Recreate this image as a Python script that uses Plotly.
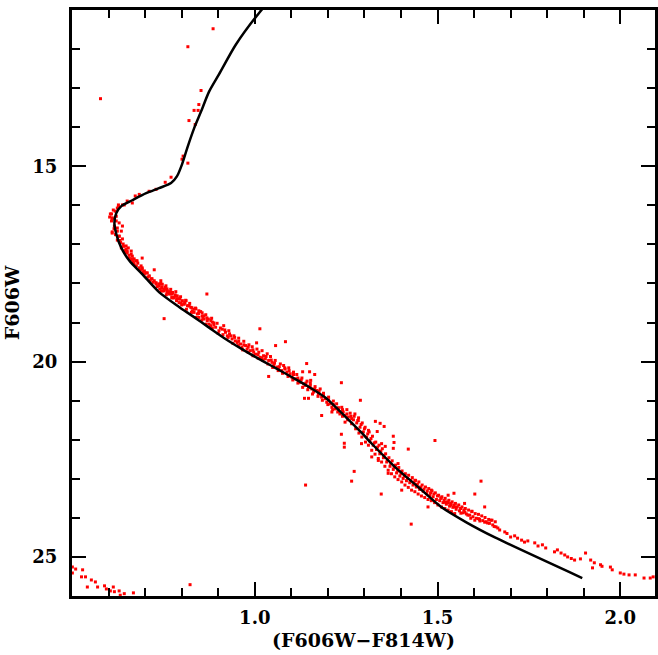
import plotly.graph_objects as go

# ---------------- data ----------------
# Isochrone (colour, magnitude)
iso_color = [1.056, 1.014, 0.948, 0.902, 0.875, 0.853, 0.834, 0.815, 0.801, 0.787, 0.771,
             0.738, 0.703, 0.665, 0.635, 0.621, 0.616, 0.621, 0.635, 0.657, 0.692, 0.738,
             0.793, 0.829, 0.875, 0.920, 0.965, 1.011, 1.056, 1.102, 1.147, 1.193, 1.247,
             1.290, 1.319, 1.384, 1.447, 1.510, 1.580, 1.657, 1.896]
iso_mag = [10.60, 11.05, 11.89, 12.65, 13.09, 13.60, 14.03, 14.54, 14.95, 15.26, 15.43,
           15.56, 15.69, 15.87, 16.02, 16.20, 16.45, 16.73, 17.09, 17.42, 17.76, 18.22,
           18.60, 18.83, 19.13, 19.42, 19.68, 19.93, 20.16, 20.40, 20.64, 20.92, 21.40,
           21.80, 22.09, 22.70, 23.21, 23.72, 24.12, 24.50, 25.54]

# Stars: (F606W-F814W, F606W)
giants = [(0.886, 11.48), (0.817, 11.94), (0.853, 13.06), (0.847, 13.42), (0.834, 13.57),
          (0.845, 13.57), (0.820, 13.83), (0.837, 13.93), (0.804, 14.74), (0.801, 14.82),
          (0.817, 14.92), (0.771, 15.28), (0.755, 15.41), (0.730, 15.59), (0.711, 15.64),
          (0.684, 15.72), (0.673, 15.76), (0.665, 15.94), (0.643, 15.99), (0.627, 15.99),
          (0.624, 16.07), (0.651, 15.89)]

turnoff = [(0.608, 16.22), (0.610, 16.32), (0.608, 16.40), (0.621, 16.40), (0.616, 16.53),
           (0.624, 16.66), (0.610, 16.68), (0.629, 16.79), (0.624, 16.89), (0.640, 16.99),
           (0.635, 17.09), (0.648, 17.12), (0.651, 17.22), (0.662, 17.25), (0.657, 17.35),
           (0.665, 17.37), (0.676, 17.42), (0.670, 17.50), (0.692, 17.35), (0.684, 17.60),
           (0.692, 17.63), (0.703, 17.73), (0.698, 17.76), (0.711, 17.81), (0.717, 17.88),
           (0.725, 17.93), (0.730, 18.01), (0.738, 18.04), (0.746, 18.09), (0.744, 18.19),
           (0.757, 18.14), (0.760, 18.24), (0.771, 18.27), (0.774, 18.37), (0.785, 18.32),
           (0.793, 18.39), (0.798, 18.50), (0.806, 18.52), (0.812, 18.44), (0.820, 18.57),
           (0.828, 18.62), (0.839, 18.65), (0.847, 18.70), (0.856, 18.75), (0.861, 18.83),
           (0.869, 18.88), (0.880, 18.95), (0.888, 19.01),
           (0.605, 16.22), (0.610, 16.35), (0.618, 16.15), (0.627, 16.02), (0.621, 16.28),
           (0.610, 16.71), (0.624, 16.58), (0.629, 16.45), (0.635, 16.66), (0.638, 16.53),
           (0.629, 16.79), (0.638, 16.86), (0.648, 17.04), (0.654, 17.09), (0.662, 17.17),
           (0.651, 17.17), (0.665, 17.30), (0.670, 17.37), (0.678, 17.42), (0.676, 17.55),
           (0.689, 17.55), (0.692, 17.60), (0.698, 17.68), (0.706, 17.73), (0.711, 17.81),
           (0.725, 17.65), (0.719, 17.88), (0.730, 17.98), (0.738, 18.01), (0.746, 18.11),
           (0.752, 18.19), (0.760, 18.14), (0.766, 18.24), (0.774, 18.27), (0.779, 18.37),
           (0.787, 18.39), (0.638, 15.99),
           (0.633, 16.95), (0.641, 17.05), (0.645, 17.15), (0.656, 17.28), (0.661, 17.40),
           (0.668, 17.44), (0.680, 17.48), (0.687, 17.66), (0.695, 17.70), (0.707, 17.84),
           (0.714, 17.92), (0.722, 17.97), (0.733, 18.08), (0.740, 18.14), (0.615, 16.60),
           (0.619, 16.75), (0.603, 16.30), (0.613, 16.12), (0.631, 16.90), (0.644, 17.20)]

upper_ms = [(0.738, 18.06), (0.747, 18.02), (0.752, 18.15), (0.761, 18.19), (0.766, 18.27),
            (0.775, 18.23), (0.779, 18.36), (0.788, 18.32), (0.793, 18.49), (0.802, 18.44),
            (0.807, 18.53), (0.816, 18.57), (0.825, 18.61), (0.829, 18.70), (0.834, 18.74),
            (0.843, 18.78), (0.847, 18.87), (0.856, 18.83), (0.861, 18.91), (0.870, 18.95),
            (0.875, 19.04), (0.879, 19.08), (0.884, 18.99), (0.893, 19.12), (0.902, 19.21),
            (0.911, 19.17), (0.920, 19.25), (0.925, 19.34), (0.934, 19.34), (0.938, 19.42),
            (0.947, 19.47), (0.952, 19.51), (0.961, 19.55), (0.965, 19.64), (0.975, 19.59),
            (0.979, 19.68), (0.988, 19.72), (0.997, 19.76), (1.002, 19.81), (1.011, 19.76),
            (1.015, 19.89), (1.024, 19.85), (1.029, 19.93), (1.038, 19.97), (1.047, 20.02),
            (1.052, 20.10), (1.061, 20.14), (1.065, 20.19), (1.074, 20.23), (1.083, 20.19),
            (1.088, 20.27), (1.097, 20.31), (1.102, 20.40), (1.111, 20.44), (1.120, 20.49),
            (1.124, 20.53), (1.134, 20.57), (1.138, 20.61), (1.147, 20.66), (1.156, 20.70),
            (1.161, 20.78), (1.170, 20.74), (1.174, 20.83), (1.183, 20.91), (1.193, 20.95),
            (1.197, 21.04), (1.206, 21.08), (1.211, 21.17), (1.220, 21.21), (1.229, 21.25),
            (1.233, 21.34), (1.242, 21.29), (1.247, 21.38), (1.256, 21.42), (1.265, 21.46)]

upper_ms_blue = [(0.743, 17.93), (0.757, 18.06), (0.770, 18.15), (0.784, 18.21), (0.797, 18.34),
                 (0.811, 18.43), (0.822, 18.51), (0.838, 18.63), (0.852, 18.72), (0.866, 18.80),
                 (0.882, 18.89), (0.897, 19.02), (0.915, 19.08), (0.929, 19.21), (0.943, 19.34),
                 (0.956, 19.40), (0.970, 19.48), (0.984, 19.57), (0.993, 19.62), (1.006, 19.68),
                 (1.020, 19.72), (1.034, 19.80), (1.043, 19.87), (1.056, 19.97), (1.070, 20.06),
                 (1.079, 20.10), (1.093, 20.16), (1.106, 20.27), (1.115, 20.33), (1.129, 20.42),
                 (1.143, 20.50), (1.152, 20.55), (1.165, 20.64), (1.179, 20.70), (1.188, 20.81),
                 (1.202, 20.91), (1.215, 21.01), (1.224, 21.08), (1.238, 21.17), (1.252, 21.23),
                 (1.261, 21.32)]

upper_ms_red = [(0.747, 18.19), (0.758, 18.29), (0.773, 18.36), (0.786, 18.44), (0.800, 18.55),
                (0.813, 18.66), (0.827, 18.74), (0.840, 18.87), (0.855, 18.94), (0.867, 19.04),
                (0.884, 19.14), (0.900, 19.28), (0.913, 19.31), (0.927, 19.38), (0.940, 19.53),
                (0.955, 19.59), (0.967, 19.70), (0.982, 19.76), (0.995, 19.85), (1.009, 19.91),
                (1.022, 19.96), (1.036, 20.06), (1.049, 20.15), (1.064, 20.23), (1.076, 20.30),
                (1.091, 20.38), (1.104, 20.47), (1.118, 20.55), (1.131, 20.66), (1.145, 20.72),
                (1.158, 20.83), (1.173, 20.89), (1.185, 20.99), (1.200, 21.10), (1.213, 21.23),
                (1.227, 21.29), (1.240, 21.40), (1.254, 21.49)]

upper_ms_extra = [(0.743, 18.00), (0.755, 18.10), (0.768, 18.21), (0.782, 18.29), (0.795, 18.40),
                  (0.809, 18.49), (0.820, 18.57), (0.834, 18.66), (0.846, 18.77), (0.858, 18.87),
                  (0.873, 18.91), (0.888, 19.06), (0.906, 19.14), (0.918, 19.19), (0.931, 19.29),
                  (0.945, 19.38), (0.956, 19.48), (0.970, 19.57), (0.982, 19.63), (0.995, 19.70),
                  (1.009, 19.82), (1.020, 19.91), (1.031, 19.87), (1.045, 19.96), (1.054, 20.04),
                  (1.067, 20.13), (1.082, 20.16), (1.094, 20.23), (1.106, 20.33), (1.118, 20.42),
                  (1.127, 20.47), (1.140, 20.55), (1.152, 20.61), (1.164, 20.70), (1.176, 20.76),
                  (1.188, 20.87), (1.202, 20.98), (1.215, 21.10), (1.229, 21.18), (1.240, 21.23),
                  (1.252, 21.34), (1.263, 21.40)]

lower_ms = [(1.270, 21.49), (1.279, 21.57), (1.288, 21.68), (1.297, 21.80), (1.306, 21.93),
            (1.315, 22.03), (1.324, 22.14), (1.333, 22.25), (1.342, 22.36), (1.352, 22.46),
            (1.361, 22.57), (1.370, 22.68), (1.379, 22.76), (1.388, 22.85), (1.397, 22.93),
            (1.406, 22.99), (1.415, 23.05), (1.424, 23.10), (1.433, 23.16), (1.442, 23.21),
            (1.451, 23.27), (1.461, 23.32), (1.470, 23.38), (1.479, 23.42), (1.488, 23.46),
            (1.497, 23.53), (1.506, 23.56), (1.515, 23.61), (1.524, 23.65), (1.533, 23.70),
            (1.542, 23.73), (1.551, 23.78), (1.560, 23.82), (1.570, 23.87), (1.579, 23.90),
            (1.588, 23.93), (1.597, 23.97), (1.606, 24.01), (1.615, 24.04), (1.624, 24.07),
            (1.633, 24.10), (1.642, 24.14), (1.651, 24.18), (1.660, 24.23)]

lower_ms_blue = [(1.274, 21.34), (1.284, 21.44), (1.294, 21.57), (1.302, 21.68), (1.313, 21.80),
                 (1.322, 21.91), (1.331, 22.06), (1.340, 22.14), (1.349, 22.23), (1.358, 22.36),
                 (1.367, 22.46), (1.376, 22.54), (1.385, 22.65), (1.394, 22.71), (1.403, 22.80),
                 (1.412, 22.87), (1.421, 22.91), (1.431, 22.97), (1.440, 23.04), (1.449, 23.08),
                 (1.458, 23.16), (1.467, 23.21), (1.476, 23.25), (1.485, 23.31), (1.494, 23.36),
                 (1.503, 23.42), (1.512, 23.46), (1.521, 23.50), (1.531, 23.55), (1.540, 23.59),
                 (1.549, 23.63), (1.558, 23.67), (1.567, 23.72), (1.576, 23.76), (1.585, 23.80),
                 (1.594, 23.84), (1.603, 23.89), (1.612, 23.91), (1.621, 23.95), (1.630, 23.99),
                 (1.640, 24.04), (1.649, 24.06), (1.658, 24.10)]

lower_ms_red = [(1.265, 21.59), (1.276, 21.72), (1.285, 21.83), (1.293, 21.93), (1.303, 22.06),
                (1.311, 22.14), (1.320, 22.27), (1.329, 22.37), (1.338, 22.48), (1.347, 22.57),
                (1.356, 22.68), (1.365, 22.78), (1.374, 22.87), (1.383, 22.95), (1.392, 23.02),
                (1.402, 23.08), (1.411, 23.16), (1.420, 23.22), (1.429, 23.29), (1.438, 23.33),
                (1.447, 23.39), (1.456, 23.44), (1.465, 23.48), (1.474, 23.53), (1.483, 23.56),
                (1.492, 23.61), (1.501, 23.67), (1.511, 23.72), (1.520, 23.76), (1.529, 23.80),
                (1.538, 23.84), (1.547, 23.89),
                (1.211, 21.29), (1.247, 21.55), (1.283, 21.51), (1.311, 21.76), (1.292, 22.10),
                (1.347, 22.10), (1.320, 22.44), (1.392, 22.61), (1.402, 23.29), (1.438, 23.04),
                (1.483, 23.29), (1.474, 23.72), (1.529, 23.42), (1.574, 23.63)]

lower_ms_extra = [(1.272, 21.40), (1.282, 21.51), (1.291, 21.61), (1.300, 21.72), (1.309, 21.85),
                  (1.318, 21.97), (1.327, 22.08), (1.336, 22.19), (1.345, 22.29), (1.354, 22.40),
                  (1.363, 22.51), (1.372, 22.61), (1.381, 22.71), (1.391, 22.80), (1.400, 22.87),
                  (1.409, 22.93), (1.418, 22.99), (1.427, 23.04), (1.436, 23.10), (1.445, 23.14),
                  (1.454, 23.21), (1.463, 23.26), (1.472, 23.31), (1.481, 23.36), (1.490, 23.39),
                  (1.500, 23.44), (1.509, 23.50), (1.518, 23.55), (1.527, 23.59), (1.536, 23.63),
                  (1.545, 23.67), (1.554, 23.72), (1.563, 23.76), (1.572, 23.80)]

tail = [(1.510, 23.49), (1.520, 23.60), (1.529, 23.62), (1.537, 23.67), (1.548, 23.72),
        (1.564, 23.88), (1.575, 23.85), (1.583, 23.93), (1.591, 24.01), (1.602, 24.06),
        (1.616, 24.08), (1.629, 24.11), (1.637, 24.13), (1.646, 24.06), (1.665, 24.26),
        (1.670, 24.31), (1.684, 24.36), (1.700, 24.49), (1.719, 24.52), (1.738, 24.62),
        (1.747, 24.59), (1.766, 24.64), (1.787, 24.69), (1.796, 24.77), (1.820, 24.87),
        (1.828, 24.82), (1.848, 24.95), (1.856, 25.00), (1.875, 25.08), (1.891, 25.05),
        (1.905, 24.90), (1.919, 25.08), (1.929, 25.15), (1.924, 25.28), (1.946, 25.20),
        (1.973, 25.26), (1.978, 25.33), (2.000, 25.41), (2.024, 25.46), (2.041, 25.46),
        (2.065, 25.54), (2.082, 25.54), (2.090, 25.51), (1.594, 23.83), (1.690, 24.40),
        (1.711, 24.46), (1.730, 24.57), (1.775, 24.72), (1.838, 24.90), (1.866, 25.04),
        (1.950, 25.24), (2.010, 25.44), (1.612, 24.02), (1.655, 24.22)]

field = [(0.578, 13.27), (0.869, 18.27), (0.752, 18.90), (1.014, 19.16), (1.005, 19.52),
         (1.057, 19.59), (1.084, 19.49), (1.038, 20.38), (1.142, 20.05), (1.131, 20.26),
         (1.150, 20.26), (1.164, 20.33), (1.153, 20.48), (1.237, 20.54), (1.136, 20.94),
         (1.147, 20.94), (1.183, 21.38), (1.289, 20.99), (1.139, 23.16), (1.265, 23.06),
         (1.272, 22.81), (1.245, 22.09), (1.245, 22.19), (1.237, 21.86), (1.493, 22.02),
         (1.346, 23.39), (1.428, 24.16), (1.619, 23.06), (1.602, 23.39), (1.629, 23.72),
         (1.545, 23.37), (0.823, 25.71), (1.330, 21.53), (1.343, 21.58), (1.354, 21.66),
         (1.335, 21.79), (1.379, 21.91), (1.381, 22.07), (1.379, 22.22), (1.420, 22.24),
         (1.357, 22.17), (1.338, 22.53), (1.365, 22.86)]

faint_blue = [(0.501, 25.26), (0.510, 25.31), (0.501, 25.41), (0.529, 25.33), (0.526, 25.51),
              (0.537, 25.51), (0.553, 25.59), (0.564, 25.64), (0.542, 25.77), (0.570, 25.77),
              (0.589, 25.74), (0.594, 25.82), (0.613, 25.77), (0.605, 25.87), (0.616, 25.89),
              (0.629, 25.87), (0.643, 25.94), (0.632, 25.98), (0.668, 25.92)]

x_ticks = [1.0, 1.5, 2.0]
x_tick_text = ["1.0", "1.5", "2.0"]
y_ticks = [15, 20, 25]
y_tick_text = ["15", "20", "25"]

# ---------------- figure ----------------
groups = [giants, turnoff, upper_ms, upper_ms_blue, upper_ms_red, upper_ms_extra,
          lower_ms, lower_ms_blue, lower_ms_red, lower_ms_extra, tail, field, faint_blue]
star_color = [p[0] for g in groups for p in g]
star_mag = [p[1] for g in groups for p in g]

fig = go.Figure()
fig.add_trace(go.Scatter(x=star_color, y=star_mag, mode="markers",
                         marker=dict(symbol="square", size=3, color="#ff0000",
                                     line=dict(width=0)),
                         showlegend=False, hoverinfo="skip"))
fig.add_trace(go.Scatter(x=iso_color, y=iso_mag, mode="lines",
                         line=dict(color="black", width=2.5, shape="spline", smoothing=0.7),
                         showlegend=False, hoverinfo="skip"))

tick_font = dict(family="DejaVu Serif", size=18, color="black", weight="bold")
title_font = dict(family="DejaVu Serif", size=19, color="black", weight="bold")

fig.update_layout(
    width=658, height=655,
    margin=dict(l=72, r=0, t=10, b=59),
    paper_bgcolor="white", plot_bgcolor="white",
    xaxis=dict(range=[0.5, 2.095], tickvals=x_ticks, ticktext=x_tick_text,
               ticks="inside", ticklen=14, tickwidth=2, tickcolor="black",
               showline=True, linewidth=3, linecolor="black", mirror="allticks",
               showgrid=False, zeroline=False, tickfont=tick_font,
               ticklabelstandoff=3,
               minor=dict(dtick=0.1, tick0=0, ticks="inside", ticklen=8, tickwidth=2,
                          tickcolor="black", showgrid=False),
               title=dict(text="(F606W\u2212F814W)", font=title_font, standoff=8)),
    yaxis=dict(range=[26, 11], tickvals=y_ticks, ticktext=y_tick_text,
               ticks="inside", ticklen=14, tickwidth=2, tickcolor="black",
               showline=True, linewidth=3, linecolor="black", mirror="allticks",
               showgrid=False, zeroline=False, tickfont=tick_font,
               ticklabelstandoff=8,
               minor=dict(dtick=1, tick0=0, ticks="inside", ticklen=8, tickwidth=2,
                          tickcolor="black", showgrid=False),
               title=dict(text="F606W", font=title_font, standoff=8)),
)

fig.write_html("out.html")
